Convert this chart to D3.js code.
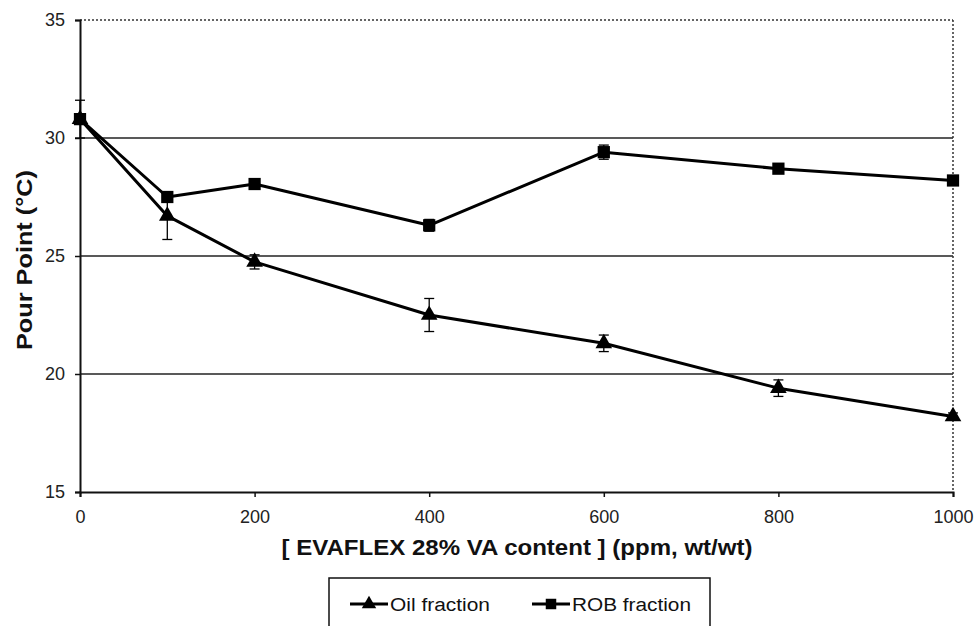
<!DOCTYPE html>
<html><head><meta charset="utf-8">
<script src="https://cdn.jsdelivr.net/npm/d3@7"></script>
<style>body{margin:0;background:#fff;} svg{display:block;}</style>
</head><body>
<svg id="c" width="975" height="626"></svg>
<script>
const concentrations = [0, 100, 200, 400, 600, 800, 1000];
const oilValues = [30.8, 26.7, 24.75, 22.5, 21.3, 19.4, 18.2];
const oilErrors = [0.8, 1.0, 0.3, 0.7, 0.35, 0.35, 0.15];
const robValues = [30.8, 27.5, 28.05, 26.3, 29.4, 28.7, 28.2];
const robErrors = [0.2, 0.15, 0.15, 0.25, 0.3, 0.15, 0.15];
const xTicks = [0, 200, 400, 600, 800, 1000];
const yTicks = [15, 20, 25, 30, 35];
const seriesNames = ["Oil fraction", "ROB fraction"];

const svg = d3.select("#c");
const font = "'Liberation Sans', Arial, sans-serif";
const x = d3.scaleLinear().domain([0, 1000]).range([80, 953]);
const y = d3.scaleLinear().domain([15, 35]).range([492, 20]);

// gridlines
svg.append("g").selectAll("line").data([20, 25, 30]).join("line")
  .attr("x1", x(0)).attr("x2", x(1000))
  .attr("y1", d => y(d)).attr("y2", d => y(d))
  .attr("stroke", "#222").attr("stroke-width", 1.3);
// top and right dotted frame
svg.append("line").attr("x1", x(0)).attr("x2", x(1000)).attr("y1", y(35)).attr("y2", y(35))
  .attr("stroke", "#333").attr("stroke-width", 1.5).attr("stroke-dasharray", "2,2");
svg.append("line").attr("x1", x(1000)).attr("x2", x(1000)).attr("y1", y(35)).attr("y2", y(15))
  .attr("stroke", "#333").attr("stroke-width", 1.5).attr("stroke-dasharray", "2,2");

// axes
const yAxis = svg.append("g").attr("transform", `translate(${x(0)},0)`)
  .call(d3.axisLeft(y).tickValues(yTicks).tickSize(5).tickPadding(10));
const xAxis = svg.append("g").attr("transform", `translate(0,${y(15)})`)
  .call(d3.axisBottom(x).tickValues(xTicks).tickFormat(d3.format("d")).tickSize(5).tickPadding(13));
[yAxis, xAxis].forEach(a => {
  a.attr("font-size", 18).attr("font-family", font);
  a.select(".domain").attr("stroke", "#111").attr("stroke-width", 2);
  a.selectAll(".tick line").attr("stroke", "#111").attr("stroke-width", 1.5);
  a.selectAll("text").attr("font-family", font).attr("font-size", 18).attr("fill", "#222");
});

const line = d3.line().x(d => x(d[0])).y(d => y(d[1]));
function drawSeries(vals, errs, shape) {
  const g = svg.append("g");
  const pts = concentrations.map((c, i) => [c, vals[i], errs[i]]);
  g.append("path").datum(pts).attr("d", line).attr("fill", "none")
    .attr("stroke", "#000").attr("stroke-width", 3).attr("stroke-linejoin", "round");
  const eb = g.selectAll("g.eb").data(pts).join("g");
  eb.append("line").attr("x1", d => x(d[0])).attr("x2", d => x(d[0]))
    .attr("y1", d => y(d[1] - d[2])).attr("y2", d => y(d[1] + d[2]))
    .attr("stroke", "#000").attr("stroke-width", 1.3);
  [1, -1].forEach(s => eb.append("line")
    .attr("x1", d => x(d[0]) - 5).attr("x2", d => x(d[0]) + 5)
    .attr("y1", d => y(d[1] + s * d[2])).attr("y2", d => y(d[1] + s * d[2]))
    .attr("stroke", "#000").attr("stroke-width", 1.3));
  g.selectAll("path.m").data(pts).join("path").attr("class", "m")
    .attr("transform", d => `translate(${x(d[0])},${y(d[1])})`)
    .attr("d", d3.symbol().type(shape).size(shape === d3.symbolSquare ? 150 : 120))
    .attr("fill", "#000");
}
drawSeries(oilValues, oilErrors, d3.symbolTriangle);
drawSeries(robValues, robErrors, d3.symbolSquare);

// axis titles
svg.append("text").attr("x", 517).attr("y", 555).attr("text-anchor", "middle")
  .attr("font-family", font).attr("font-weight", "bold").attr("font-size", 22)
  .attr("textLength", 471).attr("lengthAdjust", "spacingAndGlyphs")
  .attr("fill", "#111").text("[ EVAFLEX 28% VA content ] (ppm, wt/wt)");
svg.append("text").attr("transform", "translate(32,260) rotate(-90)").attr("text-anchor", "middle")
  .attr("font-family", font).attr("font-weight", "bold").attr("font-size", 22)
  .attr("textLength", 180).attr("lengthAdjust", "spacingAndGlyphs")
  .attr("fill", "#111").text("Pour Point (°C)");

// legend
const lg = svg.append("g");
lg.append("rect").attr("x", 329).attr("y", 578).attr("width", 381).attr("height", 70)
  .attr("fill", "#fff").attr("stroke", "#111").attr("stroke-width", 1.5);
const legendItems = [
  {name: seriesNames[0], shape: d3.symbolTriangle, x0: 350, w: 100},
  {name: seriesNames[1], shape: d3.symbolSquare, x0: 532, w: 119}
];
legendItems.forEach(it => {
  lg.append("line").attr("x1", it.x0).attr("x2", it.x0 + 38).attr("y1", 604).attr("y2", 604)
    .attr("stroke", "#000").attr("stroke-width", 3);
  lg.append("path").attr("transform", `translate(${it.x0 + 19},604)`)
    .attr("d", d3.symbol().type(it.shape).size(it.shape === d3.symbolSquare ? 110 : 90)).attr("fill", "#000");
  lg.append("text").attr("x", it.x0 + 40).attr("y", 611).attr("font-family", font)
    .attr("font-size", 18).attr("textLength", it.w).attr("lengthAdjust", "spacingAndGlyphs")
    .attr("fill", "#111").text(it.name);
});
</script>
</body></html>
